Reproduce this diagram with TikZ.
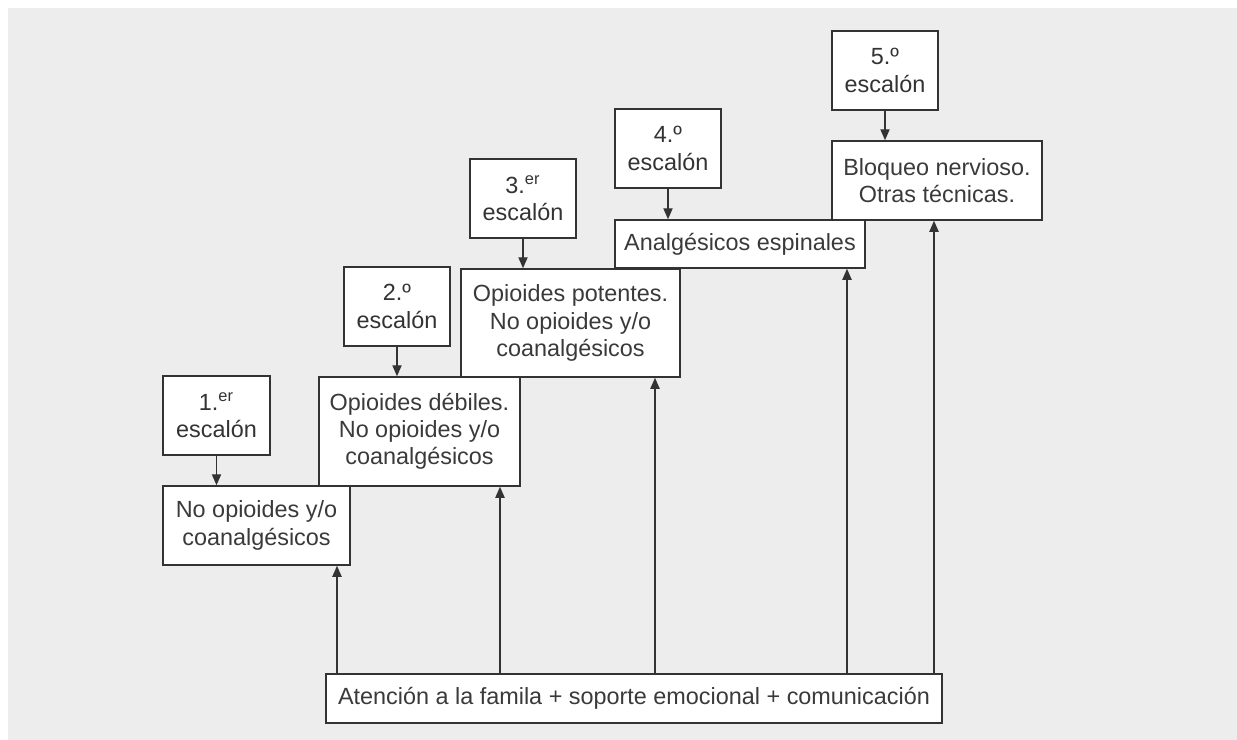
\documentclass[tikz,border=0pt]{standalone}
\usepackage{fontspec}
\setmainfont{Liberation Sans}
\usetikzlibrary{arrows.meta}
\definecolor{bggray}{HTML}{EDEDED}
\definecolor{ink}{HTML}{333333}
\definecolor{softink}{HTML}{3A3A3A}
\tikzset{
  stepbox/.style={draw=ink, line width=0.75pt, fill=white, inner sep=0pt, align=center,
    text=ink, font={\fontsize{11.7}{13.6}\selectfont}},
  contentbox/.style={stepbox, text=softink},
  arr/.style={draw=ink, line width=0.7pt, -{Triangle[length=5.5pt,width=4.6pt]}}
}
\begin{document}
\begin{tikzpicture}[x=0.5pt,y=-0.5pt]
\useasboundingbox (0,0) rectangle (1237,739);
\fill[bggray] (8,8) rectangle (1242,744);
% step labels
\node[stepbox, minimum width=53.5pt, minimum height=39.5pt] (s1) at (216.5,415.5) {1.\textsuperscript{er}\\escalón};
\node[stepbox, minimum width=53pt, minimum height=39.5pt] (s2) at (397,306.5) {2.º\\escalón};
\node[stepbox, minimum width=53pt, minimum height=39.5pt] (s3) at (523,198.5) {3.\textsuperscript{er}\\escalón};
\node[stepbox, minimum width=53pt, minimum height=39.5pt] (s4) at (668,148.5) {4.º\\escalón};
\node[stepbox, minimum width=53pt, minimum height=39.5pt] (s5) at (885,70.5) {5.º\\escalón};
% content boxes
\node[contentbox, minimum width=93.5pt, minimum height=39.5pt] (b1) at (256.5,525.5) {No opioides y/o\\coanalgésicos};
\node[contentbox, minimum width=100.5pt, minimum height=54.5pt] (b2) at (419.5,431.5) {Opioides débiles.\\No opioides y/o\\coanalgésicos};
\node[contentbox, minimum width=109.5pt, minimum height=54pt] (b3) at (570.5,323) {Opioides potentes.\\No opioides y/o\\coanalgésicos};
\node[contentbox, minimum width=125pt, minimum height=24pt] (b4) at (740,244) {Analgésicos espinales};
\node[contentbox, minimum width=105pt, minimum height=39.5pt] (b5) at (937,180.5) {Bloqueo nervioso.\\Otras técnicas.};
\node[contentbox, minimum width=308pt, minimum height=24.5pt] (base) at (634,698.5) {Atención a la famila + soporte emocional + comunicación};
% down arrows
\draw[arr] (s1.south) -- (s1.south |- b1.north);
\draw[arr] (s2.south) -- (s2.south |- b2.north);
\draw[arr] (s3.south) -- (s3.south |- b3.north);
\draw[arr] (s4.south) -- (s4.south |- b4.north);
\draw[arr] (s5.south) -- (s5.south |- b5.north);
% up arrows
\coordinate (u1) at (337,0);
\coordinate (u2) at (500,0);
\coordinate (u3) at (655,0);
\coordinate (u4) at (847,0);
\coordinate (u5) at (934,0);
\draw[arr] (base.north -| u1) -- (u1 |- b1.south);
\draw[arr] (base.north -| u2) -- (u2 |- b2.south);
\draw[arr] (base.north -| u3) -- (u3 |- b3.south);
\draw[arr] (base.north -| u4) -- (u4 |- b4.south);
\draw[arr] (base.north -| u5) -- (u5 |- b5.south);
\end{tikzpicture}
\end{document}
